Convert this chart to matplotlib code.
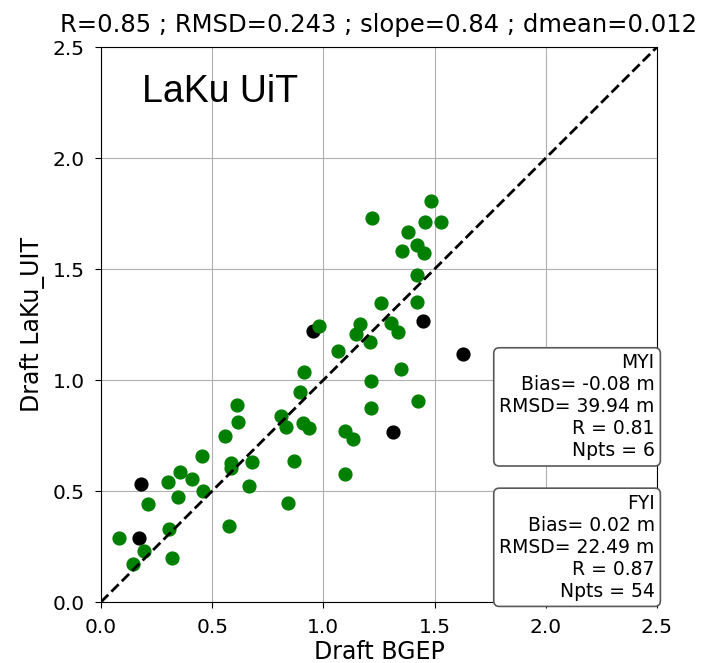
import numpy as np
import matplotlib.pyplot as plt

# Dados: FYI (verde) e MYI (preto)
fyi_bgep = [1.484, 1.220, 1.457, 1.527, 1.382, 1.352, 1.422, 1.452, 1.422, 1.259,
            1.422, 1.165, 1.302, 1.334, 1.145, 1.211, 0.982, 1.064, 0.914, 1.349,
            0.896, 1.213, 0.612, 1.424, 1.213, 0.617, 0.808, 0.833, 0.907, 0.937,
            1.097, 1.132, 0.558, 0.453, 0.583, 0.678, 0.585, 0.868, 1.097, 0.355,
            0.408, 0.303, 0.665, 0.460, 0.348, 0.213, 0.839, 0.577, 0.306, 0.081,
            0.193, 0.318, 0.143]
fyi_laku = [1.806, 1.731, 1.710, 1.710, 1.665, 1.582, 1.608, 1.571, 1.473, 1.345,
            1.353, 1.252, 1.258, 1.218, 1.206, 1.170, 1.245, 1.131, 1.036, 1.050,
            0.947, 0.994, 0.886, 0.907, 0.872, 0.812, 0.838, 0.787, 0.805, 0.785,
            0.772, 0.733, 0.748, 0.658, 0.628, 0.629, 0.602, 0.637, 0.577, 0.584,
            0.554, 0.542, 0.523, 0.501, 0.472, 0.440, 0.447, 0.344, 0.327, 0.287,
            0.231, 0.197, 0.170]
myi_bgep = [0.955, 1.449, 1.626, 1.314, 0.178, 0.171]
myi_laku = [1.222, 1.266, 1.117, 0.767, 0.530, 0.287]

titulo = 'R=0.85 ; RMSD=0.243 ; slope=0.84 ; dmean=0.012'
texto_myi = 'MYI\nBias= -0.08 m\nRMSD= 39.94 m\nR = 0.81\nNpts = 6'
texto_fyi = 'FYI\nBias= 0.02 m\nRMSD= 22.49 m\nR = 0.87\nNpts = 54'
ticks = [0.0, 0.5, 1.0, 1.5, 2.0, 2.5]

fig = plt.figure(figsize=(7.11, 6.63), dpi=100)
ax = fig.add_axes([0.142, 0.092, 0.782, 0.837])

ax.scatter(myi_bgep, myi_laku, s=85, color='black', zorder=3)
ax.scatter(fyi_bgep, fyi_laku, s=85, color='green', zorder=3)
ax.plot([0, 2.5], [0, 2.5], 'k--', linewidth=2, zorder=4)

ax.set_xlim(0, 2.5)
ax.set_ylim(0, 2.5)
ax.set_xticks(ticks)
ax.set_yticks(ticks)
ax.tick_params(labelsize=14.5, length=4.5, pad=7)
ax.grid(True)
ax.set_axisbelow(True)

ax.set_xlabel('Draft BGEP', fontsize=17, labelpad=2)
ax.set_ylabel('Draft LaKu_UIT', fontsize=17, labelpad=6)
ax.set_title(titulo, fontsize=17.5, pad=11)

ax.text(0.074, 0.952, 'LaKu UiT', transform=ax.transAxes, fontsize=27,
        family='Liberation Sans', ha='left', va='top')

caixa = dict(boxstyle='round,pad=0.3', fc='white', ec='0.35', lw=1.2)
ax.text(0.996, 0.448, texto_myi, transform=ax.transAxes, fontsize=13.5,
        ha='right', va='top', multialignment='right', bbox=caixa, zorder=5)
ax.text(0.996, 0.195, texto_fyi, transform=ax.transAxes, fontsize=13.5,
        ha='right', va='top', multialignment='right', bbox=caixa, zorder=5)

fig.savefig('out.png', dpi=100)
